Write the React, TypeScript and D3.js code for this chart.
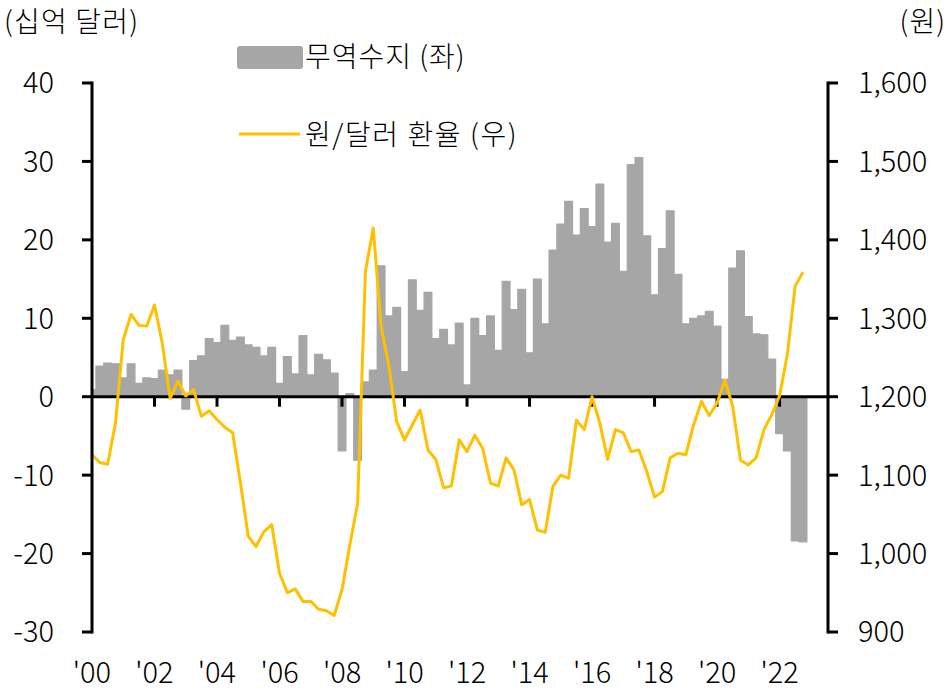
import * as d3 from 'd3';

// quarterly, 2000Q1 .. 2022Q4
const startYear = 2000;
const endYear = 2022;
const quarters = d3.range(startYear, endYear + 1).flatMap((y) => [1, 2, 3, 4].map((q) => `${y}Q${q}`));

// 무역수지 (십억 달러)
const tradeBalance = [
    0.9, 3.9, 4.3, 4.2, // 2000
    2.4, 4.2, 1.7, 2.4, // 2001
    2.3, 3.4, 2.8, 3.4, // 2002
    -1.6, 4.6, 5.2, 7.4, // 2003
    6.9, 9.1, 7.2, 7.6, // 2004
    6.6, 6.3, 5.2, 6.3, // 2005
    1.7, 5.1, 2.9, 7.8, // 2006
    2.8, 5.4, 4.7, 3.0, // 2007
    -6.9, 0.4, -8.1, 1.9, // 2008
    3.4, 16.7, 10.3, 11.4, // 2009
    3.2, 14.9, 11.0, 13.3, // 2010
    7.4, 8.6, 6.6, 9.4, // 2011
    1.5, 10.0, 7.8, 10.3, // 2012
    5.9, 14.7, 11.1, 13.7, // 2013
    5.6, 15.0, 9.3, 18.7, // 2014
    22.0, 24.9, 20.6, 24.0, // 2015
    21.7, 27.1, 19.7, 22.1, // 2016
    16.0, 29.6, 30.5, 20.5, // 2017
    13.0, 18.9, 23.7, 15.6, // 2018
    9.3, 10.0, 10.3, 10.9, // 2019
    9.0, 2.2, 16.4, 18.6, // 2020
    10.2, 8.0, 7.9, 4.8, // 2021
    -4.7, -6.9, -18.4, -18.5, // 2022
];

// 원/달러 환율 (원, 분기 평균)
const fxRate = [
    1126, 1116, 1114, 1166, // 2000
    1273, 1305, 1291, 1290, // 2001
    1317, 1268, 1198, 1220, // 2002
    1201, 1209, 1175, 1182, // 2003
    1171, 1161, 1154, 1090, // 2004
    1022, 1009, 1028, 1037, // 2005
    975, 950, 955, 939, // 2006
    939, 929, 927, 921, // 2007
    954, 1011, 1064, 1360, // 2008
    1415, 1290, 1239, 1168, // 2009
    1145, 1164, 1183, 1132, // 2010
    1120, 1084, 1086, 1145, // 2011
    1130, 1151, 1134, 1090, // 2012
    1086, 1122, 1107, 1062, // 2013
    1069, 1030, 1027, 1086, // 2014
    1100, 1096, 1170, 1158, // 2015
    1200, 1166, 1120, 1158, // 2016
    1154, 1130, 1132, 1105, // 2017
    1072, 1079, 1122, 1128, // 2018
    1126, 1164, 1194, 1176, // 2019
    1192, 1221, 1188, 1119, // 2020
    1113, 1122, 1158, 1177, // 2021
    1201, 1254, 1341, 1359, // 2022
];

const leftTicks = [-30, -20, -10, 0, 10, 20, 30, 40];
const rightTicks = [900, 1000, 1100, 1200, 1300, 1400, 1500, 1600];
const xTickYears = [2000, 2002, 2004, 2006, 2008, 2010, 2012, 2014, 2016, 2018, 2020, 2022];

const barLabel = '무역수지 (좌)';
const lineLabel = '원/달러 환율 (우)';

const WIDTH = 952;
const HEIGHT = 700;
const FONT = "'Noto Sans CJK KR', 'Noto Sans', sans-serif";
const GREY = '#a6a6a6';
const GOLD = '#ffc000';

export default function App() {
    const left = 92;
    const right = 828;
    const top = 83;
    const bottom = 632;

    const x = d3.scaleLinear().domain([2000, 2023.55]).range([left, right]);
    const yL = d3.scaleLinear().domain([-30, 40]).range([bottom, top]);
    const yR = d3.scaleLinear().domain([900, 1600]).range([bottom, top]);

    const t = (i: number) => startYear + i / 4;
    const bw = x(0.25) - x(0);

    const line = d3.line<number>()
        .x((_, i) => x(t(i)))
        .y((d) => yR(d));

    const zero = yL(0);

    return (
        <svg
            width={WIDTH}
            height={HEIGHT}
            style={{ position: 'absolute', left: 0, top: 0, background: '#fff' }}
            fontFamily={FONT}
            fontWeight={300}
        >
            <defs>
                <clipPath id="plot">
                    <rect x={left} y={0} width={right - left} height={HEIGHT} />
                </clipPath>
            </defs>

            {/* bars */}
            <g clipPath="url(#plot)">
                {tradeBalance.map((v, i) => {
                    const cx = x(t(i));
                    const y0 = yL(Math.max(0, v));
                    const y1 = yL(Math.min(0, v));
                    return (
                        <rect
                            key={quarters[i]}
                            x={cx - bw / 2}
                            y={y0}
                            width={bw}
                            height={Math.max(0.5, y1 - y0)}
                            fill={GREY}
                            stroke={GREY}
                            strokeWidth={1.2}
                            strokeLinejoin="round"
                        />
                    );
                })}
            </g>

            {/* zero line and x ticks */}
            <line x1={left} x2={right} y1={zero} y2={zero} stroke="#000" strokeWidth={3} />
            {xTickYears.filter((yr) => yr !== 2000).map((yr) => (
                <line key={yr} x1={x(yr)} x2={x(yr)} y1={zero} y2={zero + 10} stroke="#000" strokeWidth={3} />
            ))}

            {/* exchange rate */}
            <path d={line(fxRate) ?? ''} fill="none" stroke={GOLD} strokeWidth={3} strokeLinejoin="round" />

            {/* left axis */}
            <line x1={left} x2={left} y1={top - 1.5} y2={bottom + 1.5} stroke="#000" strokeWidth={3} />
            {leftTicks.map((v) => (
                <g key={v}>
                    <line x1={left - 10} x2={left} y1={yL(v)} y2={yL(v)} stroke="#000" strokeWidth={3} />
                    <text x={54} y={yL(v)} dy="0.36em" textAnchor="end" fontSize={29} fill="#000">
                        {v}
                    </text>
                </g>
            ))}

            {/* right axis */}
            <line x1={right} x2={right} y1={top - 1.5} y2={bottom + 1.5} stroke="#000" strokeWidth={3} />
            {rightTicks.map((v) => (
                <g key={v}>
                    <line x1={right} x2={right + 10} y1={yR(v)} y2={yR(v)} stroke="#000" strokeWidth={3} />
                    <text x={858} y={yR(v)} dy="0.36em" textAnchor="start" fontSize={29} fill="#000">
                        {d3.format(',')(v)}
                    </text>
                </g>
            ))}

            {/* x labels */}
            {xTickYears.map((yr) => (
                <text key={yr} x={x(yr)} y={683} textAnchor="middle" fontSize={29} fill="#000">
                    {`'${String(yr).slice(2)}`}
                </text>
            ))}

            {/* axis titles */}
            <text x={4} y={32} fontSize={28} letterSpacing={1.2} fill="#000">(십억 달러)</text>
            <text x={946} y={32} textAnchor="end" fontSize={28} letterSpacing={1} fill="#000">(원)</text>

            {/* legend */}
            <rect x={237} y={46} width={66} height={23} rx={3} fill={GREY} />
            <text x={305} y={67} fontSize={28} letterSpacing={1} fill="#000">{barLabel}</text>
            <line x1={239} x2={300} y1={134} y2={134} stroke={GOLD} strokeWidth={3} />
            <text x={305} y={145} fontSize={28} letterSpacing={1.6} fill="#000">{lineLabel}</text>
        </svg>
    );
}
